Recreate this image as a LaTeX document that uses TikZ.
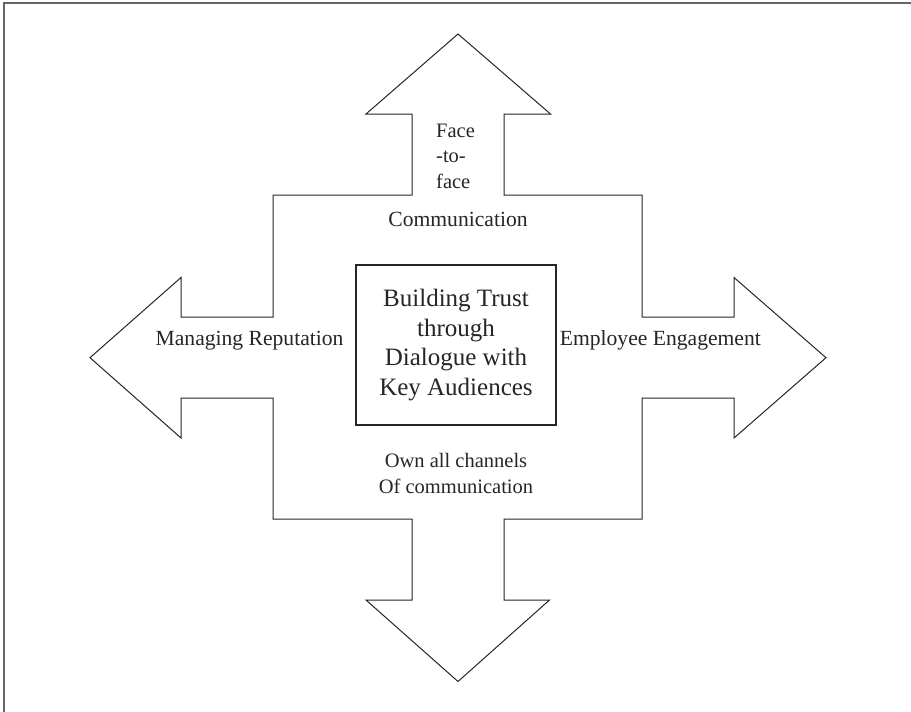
\documentclass[tikz,border=0pt]{standalone}
\usepackage{fontspec}
\setmainfont{Liberation Serif}
\tikzset{
  outline/.style={draw=black!85, line width=1pt, line join=miter, fill=white},
  frameline/.style={draw=black!60, line width=2pt},
  lbl/.style={inner sep=0pt, font=\fontsize{20.5}{25.5}\selectfont, text=black!85},
  biglbl/.style={lbl, font=\fontsize{21.6}{26}\selectfont},
  core/.style={draw=black!85, line width=1.2pt, fill=white, minimum width=200pt, minimum height=160pt, inner sep=0pt, align=center, font=\fontsize{25}{29.5}\selectfont, text=black!85}
}
\begin{document}
\begin{tikzpicture}[x=1pt,y=-1pt]
\useasboundingbox (0,0) rectangle (911,712);
\fill[white] (0,0) rectangle (911,712);
\draw[frameline] (4,712) -- (4,3) -- (911,3);
\draw[outline] (458,34) -- (550.5,114) -- (504,114) -- (504,195) -- (642,195) -- (642,317)
  -- (734,317) -- (734,277.5) -- (826,357.7) -- (734,438) -- (734,398) -- (642,398)
  -- (642,519) -- (504,519) -- (504,600) -- (549.5,600) -- (458,681.5) -- (366,600)
  -- (412,600) -- (412,519) -- (273,519) -- (273,398) -- (181,398) -- (181,438)
  -- (90,357.7) -- (181,277.5) -- (181,317) -- (273,317) -- (273,195) -- (412,195)
  -- (412,114) -- (366,114) -- cycle;
\node[core] (center) at (456,345) {Building Trust\\through\\Dialogue with\\Key Audiences};
\node[lbl, anchor=base west, align=left] (face) at (436,188.3) {Face\\-to-\\face};
\node[biglbl, anchor=base] (comm) at (458,226) {Communication};
\node[biglbl, anchor=base west] (rep) at (155.5,345) {Managing Reputation};
\node[biglbl, anchor=base east] (emp) at (761,345) {Employee Engagement};
\node[lbl, align=center, anchor=base] (own) at (456,493) {Own all channels\\Of communication};
\end{tikzpicture}
\end{document}
